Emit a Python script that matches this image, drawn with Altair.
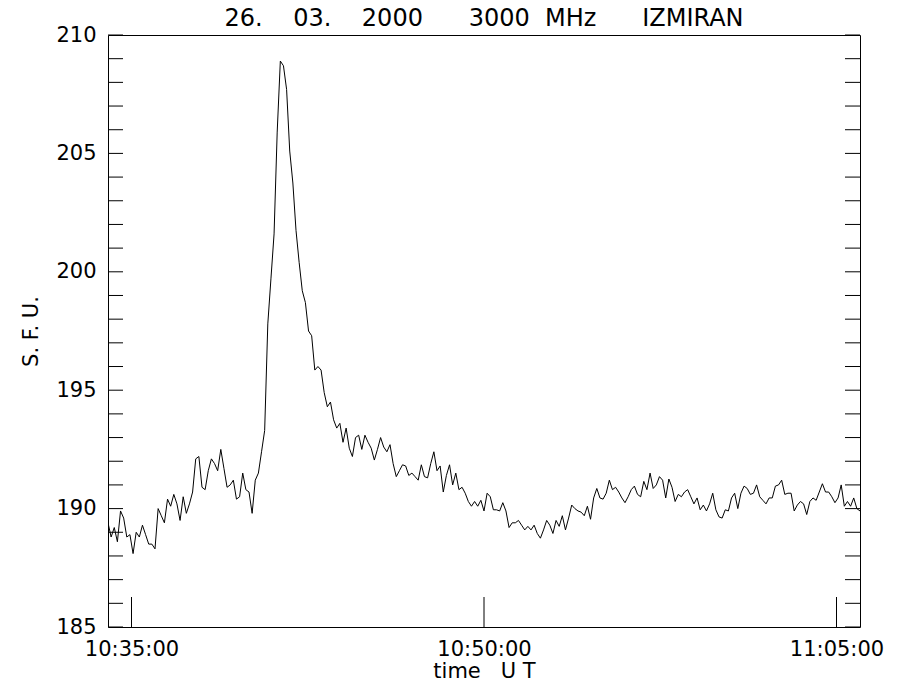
import altair as alt
import pandas as pd

# ---- data (8-second sampling, 10:34:00 -> 11:06:00 UT) ----
start_sec = 10 * 3600 + 34 * 60   # 10:34:00
step_sec = 8

sfu = [
    189.4, 188.8, 189.2, 188.6, 189.9, 189.6, 188.8, 188.9, 188.1, 189.0,
    188.8, 189.3, 188.9, 188.5, 188.5, 188.3, 190.0, 189.7, 189.4, 190.4,
    190.1, 190.6, 190.2, 189.5, 190.5, 189.8, 190.2, 190.7, 192.1, 192.2,
    190.9, 190.8, 191.6, 192.1, 191.9, 191.6, 192.5, 191.7, 190.9, 191.0,
    191.2, 190.4, 190.5, 191.5, 190.8, 190.7, 189.8, 191.2, 191.5, 192.4,
    193.3, 197.8, 199.7, 201.6, 205.9, 208.9, 208.7, 207.7, 205.1, 203.75,
    201.75, 200.4, 199.2, 198.7, 197.5, 197.3, 195.85, 196.0, 195.85, 194.9,
    194.3, 194.5, 193.75, 193.4, 193.6, 192.8, 193.4, 192.55, 192.2, 193.0,
    193.1, 192.5, 193.1, 192.8, 192.55, 192.05, 192.5, 193.0, 192.6, 192.4,
    192.7, 191.9, 191.35, 191.6, 191.85, 191.8, 191.4, 191.5, 191.35, 191.2,
    191.85, 191.35, 191.3, 191.9, 192.4, 191.6, 191.8, 190.7, 191.4, 191.85,
    191.0, 191.5, 190.8, 190.9, 190.65, 190.3, 190.1, 190.3, 190.1, 190.35,
    189.9, 190.65, 190.5, 189.95, 189.95, 189.9, 190.25, 189.9, 189.2, 189.4,
    189.4, 189.5, 189.3, 189.1, 189.25, 189.1, 189.3, 188.95, 188.75, 189.1,
    189.5, 189.3, 188.95, 189.5, 189.25, 189.7, 189.1, 189.6, 190.15, 190.0,
    189.9, 189.85, 189.7, 190.1, 189.55, 190.45, 190.85, 190.45, 190.4, 190.65,
    191.2, 190.8, 190.9, 190.7, 190.45, 190.25, 190.5, 190.8, 190.95, 190.6,
    190.5, 191.15, 190.8, 191.5, 190.85, 191.0, 191.35, 191.2, 190.45, 191.25,
    190.9, 190.3, 190.6, 190.5, 190.7, 190.8, 190.5, 190.2, 190.45, 189.95,
    190.15, 189.9, 190.2, 190.65, 189.95, 189.65, 189.6, 189.95, 189.9, 190.45,
    190.65, 190.0, 190.65, 190.95, 190.85, 190.6, 190.65, 191.0, 190.5, 190.35,
    190.2, 190.45, 190.45, 190.95, 191.0, 191.2, 190.6, 190.65, 190.65, 189.9,
    190.15, 190.3, 190.2, 189.75, 190.3, 190.45, 190.35, 190.7, 191.05, 190.7,
    190.7, 190.5, 190.25, 190.45, 191.0, 190.1, 190.3, 190.1, 190.45, 190.0,
    189.9,
]

x_domain = [10 * 3600 + 34 * 60, 11 * 3600 + 6 * 60]
x_tick_values = [10 * 3600 + 35 * 60, 10 * 3600 + 50 * 60, 11 * 3600 + 5 * 60]
y_domain = [185, 210]
y_label_values = [185, 190, 195, 200, 205, 210]
y_minor_values = list(range(185, 211))

NB = "\u00a0"
title_text = ("26." + NB * 4 + "03." + NB * 4 + "2000" + NB * 6 + "3000" + NB * 2
              + "MHz" + NB * 6 + "IZMIRAN")

df = pd.DataFrame({
    "t": [start_sec + i * step_sec for i in range(len(sfu))],
    "v": sfu,
})
yt = pd.DataFrame({"v": y_minor_values})
xt = pd.DataFrame({"t": x_tick_values})

W, H = 752, 592
FONT = "DejaVu Sans"

xscale = alt.Scale(domain=x_domain, nice=False, zero=False)
yscale = alt.Scale(domain=y_domain, nice=False, zero=False)

xaxis = alt.Axis(values=x_tick_values, ticks=False, domain=False, grid=False,
                 labelExpr="utcFormat(datum.value*1000, '%H:%M:%S')",
                 labelFontSize=21, labelPadding=11, labelFont=FONT, labelColor="black",
                 title="time" + NB * 3 + "U" + NB + "T", titleFontSize=21, titleFont=FONT,
                 titleFontWeight="normal", titleColor="black", titlePadding=1)
yaxis = alt.Axis(values=y_label_values, ticks=False, domain=False, grid=False,
                 labelFontSize=21, labelPadding=12, labelFont=FONT, labelColor="black",
                 title="S." + NB + "F." + NB + "U.", titleFontSize=21, titleFont=FONT,
                 titleFontWeight="normal", titleColor="black", titlePadding=14)

line = alt.Chart(df).mark_line(color="black", strokeWidth=1, clip=True).encode(
    x=alt.X("t:Q", scale=xscale, axis=xaxis),
    y=alt.Y("v:Q", scale=yscale, axis=yaxis),
)

ytick_left = alt.Chart(yt).mark_rule(color="black", strokeWidth=1).encode(
    y=alt.Y("v:Q", scale=yscale, axis=yaxis),
    x=alt.value(0), x2=alt.value(15),
)
ytick_right = alt.Chart(yt).mark_rule(color="black", strokeWidth=1).encode(
    y=alt.Y("v:Q", scale=yscale, axis=yaxis),
    x=alt.value(W - 15), x2=alt.value(W),
)
xtick = alt.Chart(xt).mark_rule(color="black", strokeWidth=1).encode(
    x=alt.X("t:Q", scale=xscale, axis=xaxis),
    y=alt.value(H - 30), y2=alt.value(H),
)

chart = alt.layer(line, ytick_left, ytick_right, xtick).properties(
    width=W, height=H,
    title=alt.TitleParams(text=title_text, font=FONT, fontSize=24, fontWeight="normal",
                          color="black", anchor="middle", offset=-7),
    autosize=alt.AutoSizeParams(type="none"),
    padding={"left": 100, "top": 27, "right": 30, "bottom": 60},
).configure(background="white").configure_view(stroke="black", strokeWidth=1)

chart.save("out.html", embed_options={"renderer": "svg", "actions": False})
